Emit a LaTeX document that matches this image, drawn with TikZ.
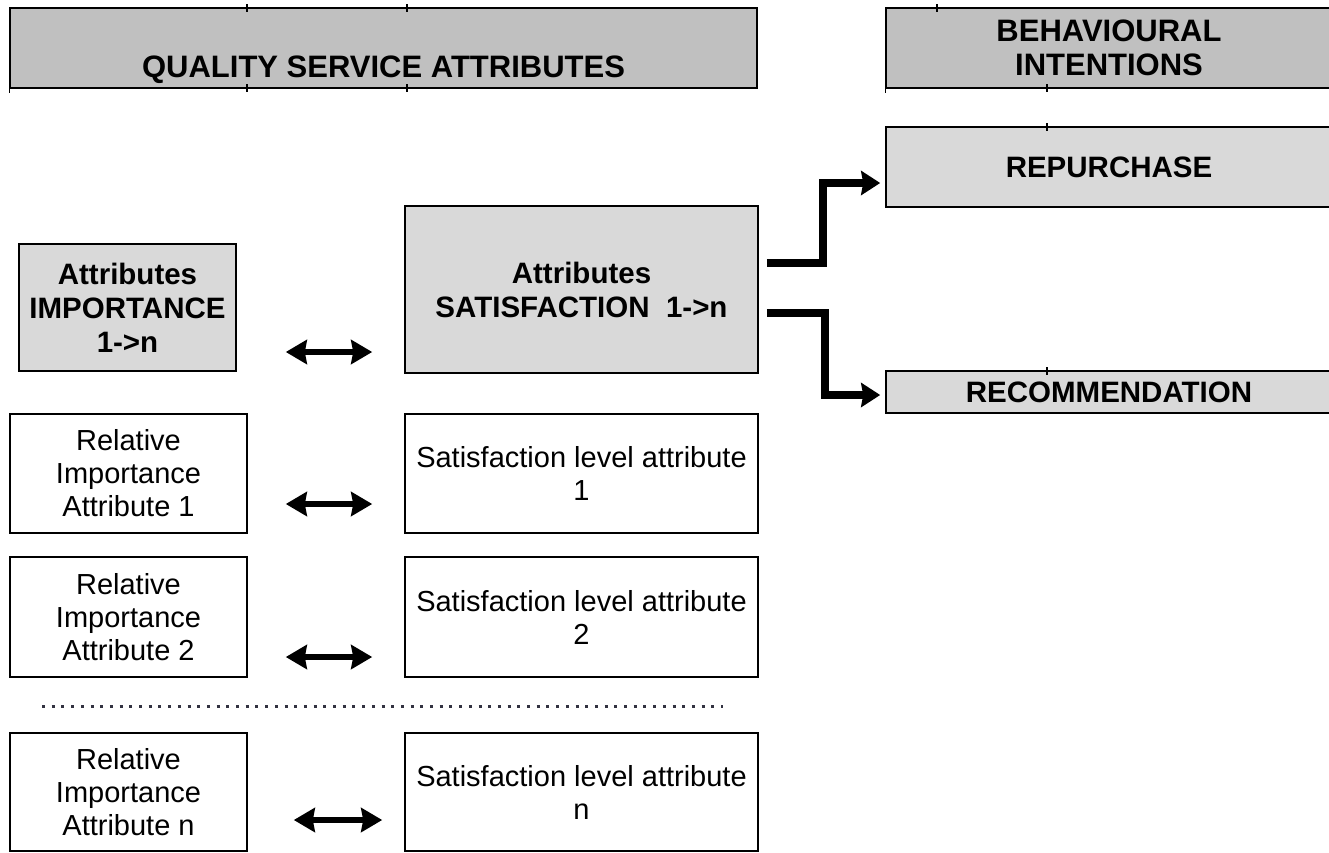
\documentclass[tikz,border=0pt]{standalone}
\usepackage{fontspec}
\setmainfont{Liberation Sans}
\usetikzlibrary{arrows.meta,calc}
\definecolor{hdrgray}{RGB}{192,192,192}
\definecolor{boxgray}{RGB}{217,217,217}
\definecolor{dotgray}{RGB}{50,50,65}
\begin{document}
\begin{tikzpicture}[x=1pt,y=-1pt,
  box/.style={draw=black,line width=1.6pt,inner sep=0pt,align=center,font=\fontsize{29}{33}\selectfont},
  graybox/.style={box,fill=boxgray,font=\bfseries\fontsize{29.5}{34}\selectfont},
  hdr/.style={draw=black,line width=1.6pt,fill=hdrgray,inner sep=0pt,align=center,font=\bfseries\fontsize{31}{34}\selectfont},
  hdrtext/.style={font=\bfseries\fontsize{31}{34}\selectfont,align=center,inner sep=0pt},
  tick/.style={line width=1.4pt},
  dblarrow/.style={line width=6pt,{Stealth[length=21pt,width=24pt,inset=2pt]}-{Stealth[length=21pt,width=24pt,inset=2pt]}},
  bigarrow/.style={line width=8.5pt,line join=miter,-{Stealth[length=19pt,width=24pt,inset=2pt]}},
  dotsep/.style={draw=dotgray,line width=3pt,dash pattern=on 3pt off 6.7pt},
]
\useasboundingbox (0,0) rectangle (1329,852);
\clip (0,0) rectangle (1329,852);

% headers
\node[hdr, minimum width=747pt, minimum height=80pt] (hdrL) at (383.5,48) {};
\node[hdrtext, anchor=base] (hdrLtxt) at (383.5,77) {QUALITY SERVICE ATTRIBUTES};
\draw[tick] (247,4) -- (247,12) (407,4) -- (407,12) (247,84) -- (247,92) (407,84) -- (407,92);
\draw[tick] (hdrL.south west) -- ++(0,4);

\node[hdr, minimum width=446pt, minimum height=80pt] (hdrR) at (1109,48) {BEHAVIOURAL\\INTENTIONS};
\draw[tick] (937,4) -- (937,12) (1047,84) -- (1047,92);
\draw[tick] (hdrR.south west) -- ++(0,4);

% behavioural boxes
\node[graybox, minimum width=446pt, minimum height=80pt] (rep) at (1109,167) {REPURCHASE};
\draw[tick] (1047,123) -- (1047,131);
\node[graybox, minimum width=446pt, minimum height=42pt] (rec) at (1109,392) {RECOMMENDATION};
\draw[tick] (1047,367) -- (1047,375);

% attribute summary boxes
\node[graybox, minimum width=217pt, minimum height=127pt] (imp) at (127.5,307.5) {Attributes\\IMPORTANCE\\1->n};
\node[graybox, minimum width=353pt, minimum height=167pt] (sat) at (581.5,289.5) {Attributes\\SATISFACTION\ \ 1->n};

% rows
\node[box, minimum width=237pt, minimum height=119pt] (rel1) at (128.5,473.5) {Relative\\Importance\\Attribute 1};
\node[box, minimum width=353pt, minimum height=119pt] (sat1) at (581.5,473.5) {Satisfaction level attribute\\1};
\node[box, minimum width=237pt, minimum height=120pt] (rel2) at (128.5,617) {Relative\\Importance\\Attribute 2};
\node[box, minimum width=353pt, minimum height=120pt] (sat2) at (581.5,617) {Satisfaction level attribute\\2};
\node[box, minimum width=237pt, minimum height=118pt] (reln) at (128.5,792) {Relative\\Importance\\Attribute n};
\node[box, minimum width=353pt, minimum height=118pt] (satn) at (581.5,792) {Satisfaction level attribute\\n};

% dotted separator
\coordinate (dotL) at (42,706);
\coordinate (dotR) at (723,706);
\draw[dotsep] (dotL) -- (dotR);

% double arrows
\draw[dblarrow,shorten <=49pt,shorten >=32pt] (imp.east |- 0,352) -- (sat.west |- 0,352);
\draw[dblarrow,shorten <=38pt,shorten >=32pt] (rel1.east |- 0,504) -- (sat1.west |- 0,504);
\draw[dblarrow,shorten <=38pt,shorten >=32pt] (rel2.east |- 0,657) -- (sat2.west |- 0,657);
\draw[dblarrow,shorten <=46pt,shorten >=22pt] (reln.east |- 0,820) -- (satn.west |- 0,820);

% bent arrows
\draw[bigarrow] ($(sat.east)+(8,-26.5)$) -- ++(56,0) |- ($(rep.west)+(-5,16)$);
\draw[bigarrow] ($(sat.east)+(8,23.5)$) -- ++(58,0) |- ($(rec.west)+(-5,3)$);
\end{tikzpicture}
\end{document}
